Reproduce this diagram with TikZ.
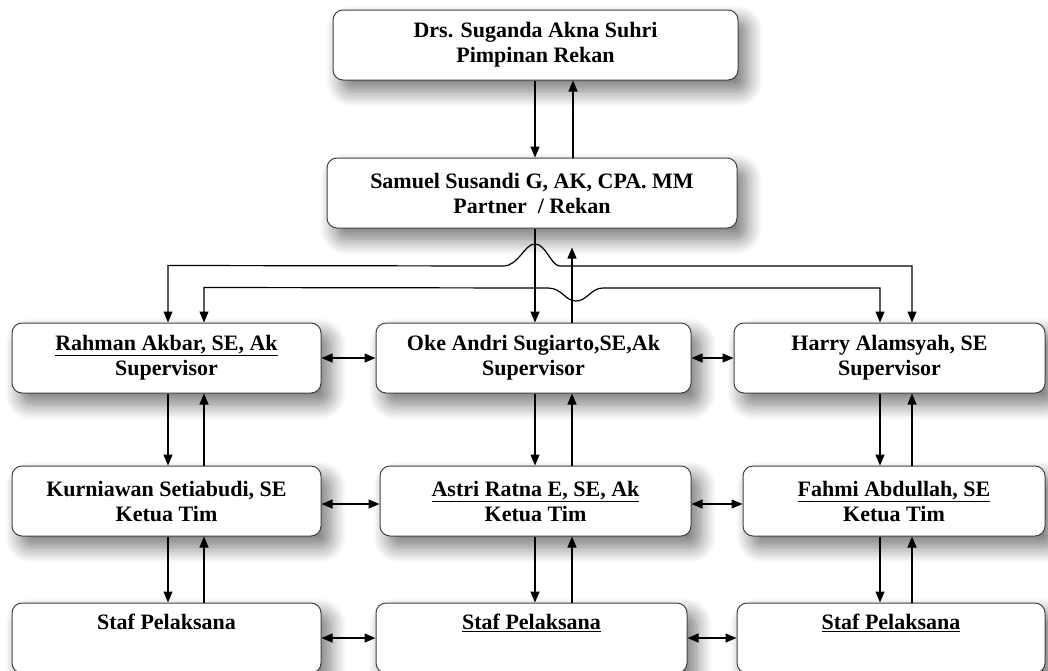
\documentclass[tikz,border=0pt]{standalone}
\usepackage{fontspec}
\setmainfont{Liberation Serif}
\usetikzlibrary{arrows.meta,shadows.blur}
\tikzset{
  box/.style={draw=black!75, line width=1pt, fill=white, rounded corners=10pt, align=center,
    inner sep=0pt, minimum height=70pt, font=\bfseries\fontsize{22}{25}\selectfont,
    blur shadow={shadow xshift=9pt, shadow yshift=-11pt, shadow blur radius=16pt, shadow opacity=55, shadow blur steps=12}},
  link/.style={line width=1.2pt, -{Triangle[length=11pt,width=9pt]}},
  twin/.style={line width=1.2pt, {Triangle[length=11pt,width=9pt]}-{Triangle[length=11pt,width=9pt]}}
}

\begin{document}
\begin{tikzpicture}[x=1pt, y=-1pt]
		%%%%% START %%%%%
		\useasboundingbox (0,0) rectangle (1048,670);
		
		\node[box, minimum width=405pt] (pimp) at (535.5,45) {Drs. Suganda Akna Suhri\\Pimpinan Rekan};
		\node[box, minimum width=410pt] (partner) at (532,193) {Samuel Susandi G, AK, CPA. MM\\Partner~~/ Rekan};
		
		\node[box, minimum width=309pt] (supA) at (166.5,358) {\underline{Rahman Akbar, SE, Ak}\\Supervisor};
		\node[box, minimum width=315pt] (supB) at (533.5,358) {Oke Andri Sugiarto,SE,Ak\\Supervisor};
		\node[box, minimum width=311pt] (supC) at (889.5,358) {Harry Alamsyah, SE\\Supervisor};
		
		\node[box, minimum width=309pt] (ketA) at (166.5,501) {Kurniawan Setiabudi, SE\\Ketua Tim};
		\node[box, minimum width=311pt] (ketB) at (535.5,501) {\underline{Astri Ratna E, SE, Ak}\\Ketua Tim};
		\node[box, minimum width=302pt] (ketC) at (894,501) {\underline{Fahmi Abdullah, SE}\\Ketua Tim};
		
		\node[box, minimum width=309pt] (stafA) at (166.5,638) {Staf Pelaksana\\\strut};
		\node[box, minimum width=311pt] (stafB) at (531.5,638) {\underline{Staf Pelaksana}\\\strut};
		\node[box, minimum width=308pt] (stafC) at (891,638) {\underline{Staf Pelaksana}\\\strut};
		
		% top pair
		\draw[link] ([xshift=-0.5pt]pimp.south) -- ([xshift=-0.5pt]pimp.south |- partner.north);
		\draw[link] ([xshift=37.5pt]pimp.south |- partner.north) -- ([xshift=37.5pt]pimp.south);
		\draw[link] ([xshift=3pt]partner.south) -- ([xshift=3pt]partner.south |- supB.north);
		\draw[link] ([xshift=38.5pt]supB.north) -- ([xshift=38.5pt,yshift=-19pt]supB.north |- partner.south);
		
		% bridges to the sides
		\draw[twin] ([xshift=1.5pt]supA.north) -- ++(0,-57) -- (503,266)
			.. controls (519,266) and (524,244) .. (535,244)
			.. controls (546,244) and (551,266) .. (560,266)
			-- ([xshift=22.5pt]supC.north |- 0,266) -- ([xshift=22.5pt]supC.north);
		\draw[twin] ([xshift=37.5pt]supA.north) -- ++(0,-35) -- (548,288)
			.. controls (562,288) and (565,301) .. (576,301)
			.. controls (587,301) and (591,288) .. (603,288)
			-- ([xshift=-9.5pt]supC.north |- 0,288) -- ([xshift=-9.5pt]supC.north);
		
		% columns
		\draw[link] ([xshift=1.5pt]supA.south) -- ([xshift=1.5pt]supA.south |- ketA.north);
		\draw[link] ([xshift=37.5pt]supA.south |- ketA.north) -- ([xshift=37.5pt]supA.south);
		\draw[link] ([xshift=1.5pt]ketA.south) -- ([xshift=1.5pt]ketA.south |- stafA.north);
		\draw[link] ([xshift=37.5pt]ketA.south |- stafA.north) -- ([xshift=37.5pt]ketA.south);
		
		\draw[link] ([xshift=1.5pt]supB.south) -- ([xshift=1.5pt]supB.south |- ketB.north);
		\draw[link] ([xshift=38.5pt]supB.south |- ketB.north) -- ([xshift=38.5pt]supB.south);
		\draw[link] ([xshift=1.5pt]supB.south |- ketB.south) -- ([xshift=1.5pt]supB.south |- stafB.north);
		\draw[link] ([xshift=38.5pt]supB.south |- stafB.north) -- ([xshift=38.5pt]supB.south |- ketB.south);
		
		\draw[link] ([xshift=-9.5pt]supC.south) -- ([xshift=-9.5pt]supC.south |- ketC.north);
		\draw[link] ([xshift=22.5pt]supC.south |- ketC.north) -- ([xshift=22.5pt]supC.south);
		\draw[link] ([xshift=-9.5pt]supC.south |- ketC.south) -- ([xshift=-9.5pt]supC.south |- stafC.north);
		\draw[link] ([xshift=22.5pt]supC.south |- stafC.north) -- ([xshift=22.5pt]supC.south |- ketC.south);
		
		% rows
		\draw[twin] (supA.east) -- (supB.west);
		\draw[twin] (supB.east) -- (supC.west);
		\draw[twin] ([yshift=-3pt]ketA.east) -- ([yshift=-3pt]ketA.east -| ketB.west);
		\draw[twin] ([yshift=-3pt]ketB.east) -- ([yshift=-3pt]ketB.east -| ketC.west);
		\draw[twin] (stafA.east) -- (stafB.west);
		\draw[twin] (stafB.east) -- (stafC.west);
		%%%%% END %%%%%
\end{tikzpicture}
\end{document}
